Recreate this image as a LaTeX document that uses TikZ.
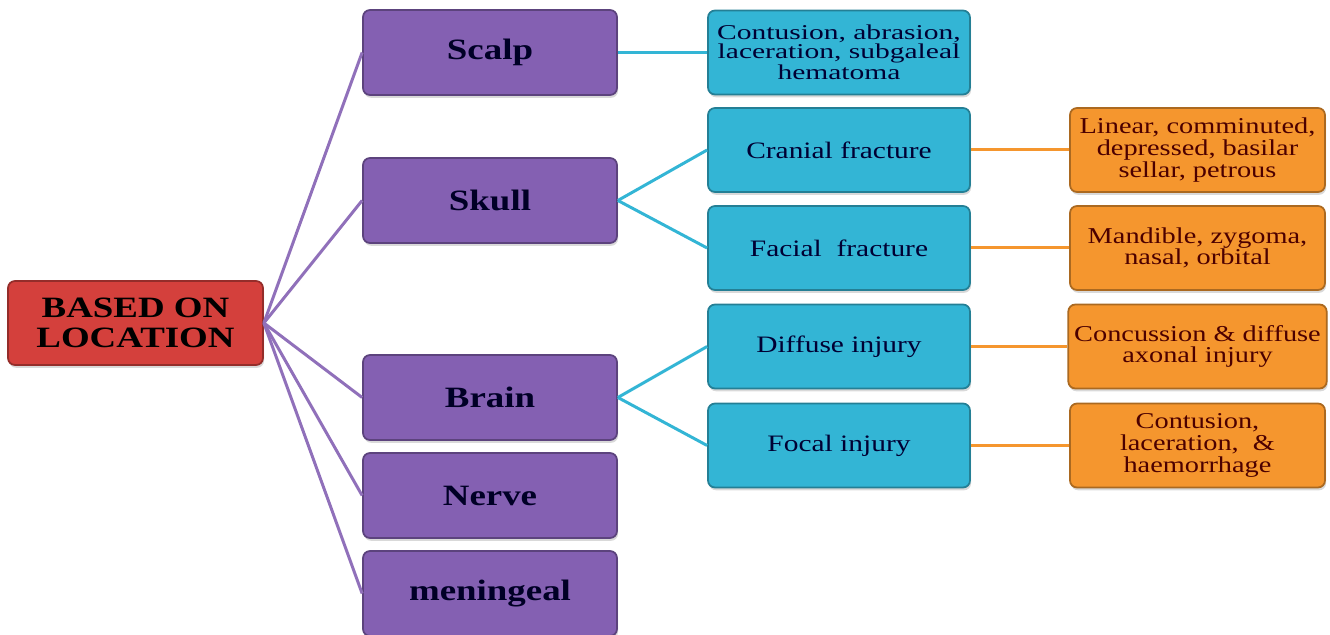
\documentclass[tikz,border=0pt]{standalone}
\usepackage{fontspec}
\setmainfont[FakeStretch=1.25]{Liberation Serif}
\newfontfamily\widefont[FakeStretch=1.4]{Liberation Serif}
\usetikzlibrary{shadows}
\definecolor{rootred}{HTML}{D4403C}
\definecolor{partpurple}{HTML}{8460B2}
\definecolor{typeblue}{HTML}{33B5D5}
\definecolor{kindorange}{HTML}{F5962E}
\begin{document}
\begin{tikzpicture}[
    box/.style={rectangle, rounded corners=4pt, line width=1pt, align=center,
      drop shadow={opacity=0.3, shadow xshift=0.6pt, shadow yshift=-1.6pt}},
    rootbox/.style={box, fill=rootred, draw=rootred!70!black,
      minimum width=5.1cm, minimum height=1.68cm,
      font=\fontsize{16.8}{17}\selectfont\bfseries, text=black},
    partbox/.style={box, fill=partpurple, draw=partpurple!70!black,
      minimum width=5.08cm, minimum height=1.7cm,
      font=\fontsize{16.8}{17}\selectfont\bfseries, text=black!85!blue},
    typebox/.style={box, fill=typeblue, draw=typeblue!70!black,
      minimum width=5.24cm, minimum height=1.68cm,
      font=\fontsize{13.4}{12}\selectfont, text=black!80!blue},
    kindbox/.style={box, fill=kindorange, draw=kindorange!70!black,
      minimum width=5.1cm, minimum height=1.68cm,
      font=\fontsize{12.9}{12.3}\selectfont, text=black!70!red},
    partline/.style={draw=partpurple!90, line width=1.7pt},
    typeline/.style={draw=typeblue, line width=1.7pt},
    kindline/.style={draw=kindorange, line width=1.7pt}]
  \useasboundingbox (0,0) rectangle (26.6,12.7);

  % root
  \node[rootbox] (location) at (2.71,6.24) {BASED ON\\LOCATION};

  % site of injury
  \node[partbox] (scalp)     at (9.80,11.65) {Scalp};
  \node[partbox] (skull)     at (9.80,8.69)  {Skull};
  \node[partbox] (brain)     at (9.80,4.75)  {Brain};
  \node[partbox] (nerve)     at (9.80,2.79)  {Nerve};
  \node[partbox] (meningeal) at (9.80,0.83)  {meningeal};

  % type of injury
  \node[typebox, font=\widefont\fontsize{12}{10.6}\selectfont] (scalpinj) at (16.78,11.65)
    {Contusion, abrasion,\\laceration, subgaleal\\hematoma};
  \node[typebox] (cranial)  at (16.78,9.70)  {Cranial fracture};
  \node[typebox] (facial)   at (16.78,7.74)  {Facial\ \ fracture};
  \node[typebox] (diffuse)  at (16.78,5.77)  {Diffuse injury};
  \node[typebox] (focal)    at (16.78,3.79)  {Focal injury};

  % examples
  \node[kindbox] (cranialkind) at (23.95,9.70) {Linear, comminuted,\\depressed, basilar\\sellar, petrous};
  \node[kindbox] (facialkind)  at (23.95,7.74) {Mandible, zygoma,\\nasal, orbital};
  \node[kindbox] (diffusekind) at (23.95,5.77) {Concussion \& diffuse\\axonal injury};
  \node[kindbox] (focalkind)   at (23.95,3.79) {Contusion,\\laceration,\ \ \&\\haemorrhage};

  % connectors
  \foreach \p in {scalp,skull,brain,nerve,meningeal}
    \draw[partline] (location.east) -- (\p.west);
  \draw[typeline] (scalp.east) -- (scalpinj.west);
  \draw[typeline] (skull.east) -- (cranial.west);
  \draw[typeline] (skull.east) -- (facial.west);
  \draw[typeline] (brain.east) -- (diffuse.west);
  \draw[typeline] (brain.east) -- (focal.west);
  \draw[kindline] (cranial.east) -- (cranialkind.west);
  \draw[kindline] (facial.east)  -- (facialkind.west);
  \draw[kindline] (diffuse.east) -- (diffusekind.west);
  \draw[kindline] (focal.east)   -- (focalkind.west);
\end{tikzpicture}
\end{document}
